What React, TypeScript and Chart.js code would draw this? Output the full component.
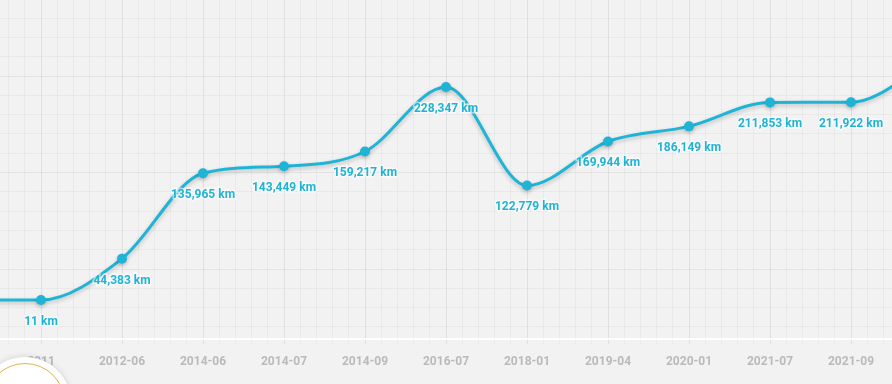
import React, { useEffect, useRef } from "react";
import { Chart, registerables } from "chart.js";

Chart.register(...registerables);

// Visible categories (x-axis tick labels)
const categories = [
  "2011", "2012-06", "2014-06", "2014-07", "2014-09", "2016-07",
  "2018-01", "2019-04", "2020-01", "2021-07", "2021-09",
];
// Odometer values (km) per category
const distanceKm = [
  11, 44383, 135965, 143449, 159217, 228347, 122779, 169944, 186149, 211853, 211922,
];
// The series continues beyond both edges of the cropped view
const prevKm = 11;
const nextKm = 256000;

const LINE = "#1fb4d6";

const shadowPlugin = {
  id: "lineShadow",
  beforeDatasetDraw(chart: any) {
    const c = chart.ctx;
    c.save();
    c.shadowColor = "rgba(0,0,0,0.22)";
    c.shadowBlur = 4;
    c.shadowOffsetY = 2;
  },
  afterDatasetDraw(chart: any) {
    chart.ctx.restore();
  },
};

const valueLabels = {
  id: "valueLabels",
  afterDatasetsDraw(chart: any) {
    const c = chart.ctx;
    const meta = chart.getDatasetMeta(0);
    c.save();
    c.font = "700 12px Roboto";
    c.textAlign = "center";
    c.textBaseline = "middle";
    meta.data.forEach((pt: any, i: number) => {
      const idx = i - 1;
      if (idx < 0 || idx >= distanceKm.length) return;
      const txt = distanceKm[idx].toLocaleString("en-US") + " km";
      c.lineWidth = 3;
      c.strokeStyle = "rgba(255,255,255,0.55)";
      c.strokeText(txt, pt.x, pt.y + 22);
      c.fillStyle = LINE;
      c.fillText(txt, pt.x, pt.y + 22);
    });
    c.restore();
  },
};

export default function App() {
  const ref = useRef<HTMLCanvasElement>(null);

  useEffect(() => {
    document.body.style.margin = "0";
    document.body.style.background = "#f2f2f2";
    document.body.style.overflow = "hidden";
    const values = [prevKm, ...distanceKm, nextKm];
    const points = values.map((v, i) => ({ x: i - 1, y: v }));
    const yStep = 20686;
    const yBase = 240086;
    const chart = new Chart(ref.current!, {
      type: "line",
      data: {
        datasets: [
          {
            data: points,
            borderColor: LINE,
            backgroundColor: LINE,
            borderWidth: 3,
            cubicInterpolationMode: "monotone",
            pointRadius: (ctx: any) =>
              ctx.dataIndex === 0 || ctx.dataIndex === values.length - 1 ? 0 : 5,
            pointBackgroundColor: LINE,
            pointBorderWidth: 0,
            fill: false,
          },
        ],
      },
      options: {
        animation: false,
        responsive: false,
        maintainAspectRatio: false,
        layout: { padding: 0 },
        plugins: { legend: { display: false }, tooltip: { enabled: false } },
        scales: {
          x: {
            type: "linear",
            min: -1,
            max: 11,
            afterBuildTicks: (scale: any) => {
              const t = [];
              for (let k = -5; k <= 55; k++) t.push({ value: k / 5 });
              scale.ticks = t;
            },
            afterFit: (scale: any) => {
              scale.height = 45;
              scale.paddingLeft = 0;
              scale.paddingRight = 0;
            },
            grid: {
              color: (ctx: any) => {
                const v = ctx.tick ? ctx.tick.value : 0;
                return Math.abs(v - Math.round(v)) < 1e-6
                  ? "rgba(0,0,0,0.075)"
                  : "rgba(0,0,0,0.035)";
              },
              lineWidth: 1,
              drawTicks: true,
              tickLength: 5,
            },
            border: { display: true, color: "rgba(255,255,255,0.8)", width: 2 },
            ticks: {
              autoSkip: false,
              maxRotation: 0,
              padding: 11,
              color: "#bababa",
              font: { family: "Roboto", weight: "bold", size: 12 },
              callback: (v: any) => {
                const r = Math.round(v);
                if (Math.abs(v - r) > 1e-6) return "";
                return categories[r] ?? "";
              },
            },
          },
          y: {
            type: "linear",
            min: -41749,
            max: 321595,
            afterBuildTicks: (scale: any) => {
              const t = [];
              for (let k = -20; k <= 20; k++) {
                const v = yBase + k * yStep;
                if (v > scale.min && v < scale.max) t.push({ value: v, k });
              }
              scale.ticks = t;
            },
            afterFit: (scale: any) => {
              scale.width = 0;
            },
            grid: {
              color: (ctx: any) => {
                const k = ctx.tick ? Math.round((ctx.tick.value - yBase) / yStep) : 1;
                return k % 5 === 0 ? "rgba(0,0,0,0.06)" : "rgba(0,0,0,0.035)";
              },
              drawTicks: false,
            },
            border: { display: false },
            ticks: { display: false },
          },
        },
      },
      plugins: [shadowPlugin, valueLabels],
    } as any);
    return () => chart.destroy();
  }, []);

  return (
    <div style={{ position: "fixed", left: 0, top: 0, width: 892, height: 384, overflow: "hidden", background: "#f2f2f2" }}>
      <canvas
        ref={ref}
        width={972}
        height={384}
        style={{ position: "absolute", left: -40, top: 0, width: 972, height: 384 }}
      />
      <div
        style={{
          position: "absolute",
          left: 25 - 46,
          top: 403 - 46,
          width: 92,
          height: 92,
          borderRadius: "50%",
          background: "#fff",
          boxShadow: "0 0 6px rgba(0,0,0,0.15)",
        }}
      >
        <div
          style={{
            position: "absolute",
            left: 6,
            top: 6,
            width: 78,
            height: 78,
            borderRadius: "50%",
            border: "1px solid #e2b24c",
          }}
        />
      </div>
    </div>
  );
}
